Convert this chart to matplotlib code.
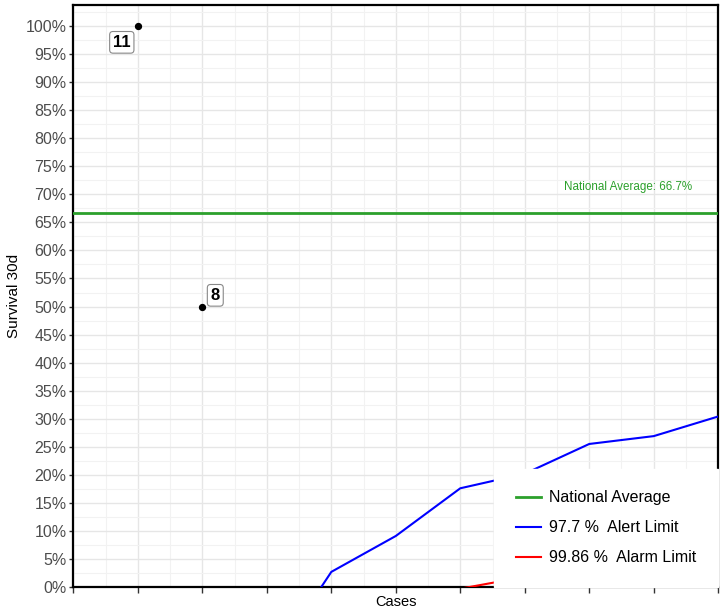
import matplotlib
matplotlib.use("Agg")
import matplotlib.pyplot as plt
from matplotlib.ticker import MultipleLocator, FuncFormatter

plt.rcParams["font.family"] = ["Liberation Sans", "DejaVu Sans"]

# Data
point_cases = [1, 2]
point_survival = [100, 50]
point_labels = ["11", "8"]
national_average = 66.7
limit_cases = [3, 4, 5, 6, 7, 8, 9, 10]
alert_limit = [-14.6, 2.7, 9.1, 17.6, 20.2, 25.5, 26.9, 30.4]
alarm_limit = [-20.0, -14.0, -6.0, -0.3, 1.8, 9.0, 11.5, 13.3]

fig = plt.figure(figsize=(7.2, 6.13), dpi=100)
ax = fig.add_axes([0.102, 0.0424, 0.8955, 0.9494])

ax.set_xlim(0, 10)
ax.set_ylim(0, 103.75)

ax.xaxis.set_major_locator(MultipleLocator(1))
ax.xaxis.set_minor_locator(MultipleLocator(0.5))
ax.yaxis.set_major_locator(MultipleLocator(5))
ax.yaxis.set_minor_locator(MultipleLocator(2.5))
ax.yaxis.set_major_formatter(FuncFormatter(lambda v, p: f"{int(round(v))}%"))
ax.xaxis.set_major_formatter(FuncFormatter(lambda v, p: ""))

ax.grid(which="major", color="#e6e6e6", lw=1.0, zorder=0)
ax.grid(which="minor", color="#f2f2f2", lw=0.8, zorder=0)
ax.set_axisbelow(True)

for s in ax.spines.values():
    s.set_linewidth(1.6)
    s.set_color("black")

ax.tick_params(axis="y", which="major", length=3, width=1, color="#333333",
               labelsize=11.5, labelcolor="#4d4d4d", pad=2)
ax.tick_params(axis="x", which="major", length=4, width=1, color="#333333",
               labelsize=11.5, labelcolor="#4d4d4d", pad=1)
ax.tick_params(axis="both", which="minor", length=0)

ax.axhline(national_average, color="#2ca02c", lw=2, label="National Average", zorder=3)
ax.plot(limit_cases, alert_limit, color="blue", lw=1.5, label="97.7 %  Alert Limit", zorder=3)
ax.plot(limit_cases, alarm_limit, color="red", lw=1.5, label="99.86 %  Alarm Limit", zorder=3)

ax.text(9.6, national_average + 3.5, f"National Average: {national_average}%",
        color="#2ca02c", fontsize=8.4, ha="right", va="bottom")

ax.scatter(point_cases, point_survival, color="black", s=18, zorder=5, clip_on=False)
offsets = [(-0.25, -2.9), (0.2, 2.0)]
for xv, yv, lab, (dx, dy) in zip(point_cases, point_survival, point_labels, offsets):
    ax.text(xv + dx, yv + dy, lab, fontsize=12, fontweight="bold", ha="center", va="center",
            bbox=dict(boxstyle="round,pad=0.2", fc="white", ec="#888888", lw=0.8), zorder=6)

ax.set_xlabel("Cases", fontsize=10.5, labelpad=1)
ax.set_ylabel("Survival 30d", fontsize=11, labelpad=3)

leg = ax.legend(loc="lower right", frameon=True, fontsize=11.5, borderpad=1.35,
                labelspacing=0.95, handlelength=1.6, handletextpad=0.5, borderaxespad=0.0)
leg.get_frame().set_edgecolor("white")
leg.get_frame().set_facecolor("white")
leg.get_frame().set_alpha(1)
leg.get_frame().set_boxstyle("square", pad=0)

fig.savefig("out.png", dpi=100)
